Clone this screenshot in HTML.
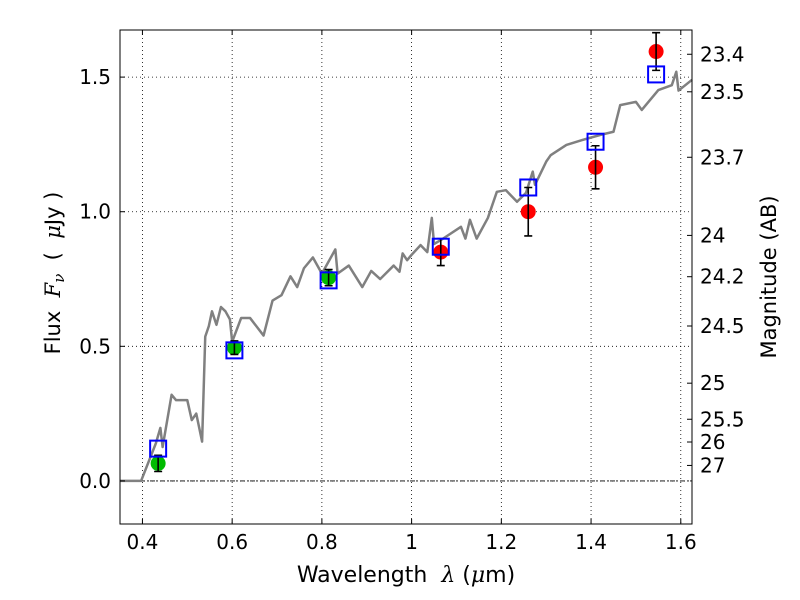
<!DOCTYPE html>
<html><head><meta charset="utf-8"><style>
body{margin:0;background:#fff;}
svg{display:block;font-family:"DejaVu Sans","Liberation Sans",sans-serif;}
</style></head><body>
<svg id="chart" width="800" height="600" viewBox="0 0 800 600" xmlns="http://www.w3.org/2000/svg"></svg>
<script>
const specX=[0.35,0.397,0.43,0.44,0.445,0.465,0.475,0.485,0.50,0.51,0.52,0.533,0.54,0.548,0.555,0.565,0.575,0.585,0.595,0.60,0.62,0.64,0.67,0.69,0.71,0.73,0.745,0.76,0.78,0.80,0.83,0.835,0.86,0.89,0.91,0.93,0.96,0.973,0.98,0.99,1.0,1.02,1.035,1.045,1.05,1.07,1.11,1.12,1.13,1.145,1.17,1.19,1.21,1.235,1.255,1.27,1.275,1.3,1.31,1.345,1.38,1.42,1.45,1.465,1.5,1.513,1.55,1.58,1.59,1.595,1.625];
const specY=[0,0,0.14,0.197,0.126,0.32,0.30,0.30,0.30,0.226,0.25,0.146,0.536,0.575,0.63,0.58,0.646,0.63,0.6,0.517,0.605,0.605,0.54,0.67,0.69,0.76,0.72,0.79,0.83,0.77,0.86,0.77,0.80,0.72,0.78,0.75,0.80,0.777,0.845,0.82,0.84,0.876,0.85,0.977,0.88,0.9,0.944,0.9,0.97,0.9,0.977,1.074,1.08,1.037,1.07,1.149,1.1,1.186,1.21,1.248,1.266,1.285,1.297,1.396,1.408,1.378,1.452,1.47,1.52,1.45,1.49];
const optX=[0.435,0.605,0.815];
const optY=[0.065,0.495,0.755];
const optErr=[0.03,0.025,0.03];
const irX=[1.065,1.26,1.41,1.545];
const irY=[0.85,1.0,1.165,1.595];
const irErr=[0.05,0.09,0.08,0.07];
const modX=[0.435,0.605,0.815,1.065,1.26,1.41,1.545];
const modY=[0.12,0.485,0.745,0.87,1.09,1.26,1.51];
const xTicks=[0.4,0.6,0.8,1.0,1.2,1.4,1.6];
const xTickLabels=["0.4","0.6","0.8","1","1.2","1.4","1.6"];
const yTicks=[0,0.5,1.0,1.5];
const yTickLabels=["0.0","0.5","1.0","1.5"];
const magTicks=[23.4,23.5,23.7,24,24.2,24.5,25,25.5,26,27];

const L=120,R=692,T=30,B=524,XMIN=0.35,XMAX=1.625,YMIN=-0.16,YMAX=1.675;
const sx=v=>L+(v-XMIN)/(XMAX-XMIN)*(R-L);
const sy=v=>B-(v-YMIN)/(YMAX-YMIN)*(B-T);
const svg=document.getElementById('chart');
const NS="http://www.w3.org/2000/svg";
function mk(tag,attrs,parent){const e=document.createElementNS(NS,tag);for(const k in attrs)e.setAttribute(k,attrs[k]);(parent||svg).appendChild(e);return e;}

mk('rect',{x:0,y:0,width:800,height:600,fill:'#fff'});
xTicks.forEach((v,i)=>{
 const g=mk('line',{x1:sx(v),x2:sx(v),y1:T,y2:B,stroke:'#000','stroke-width':0.8,'stroke-dasharray':'1,3'});
 
 
});
yTicks.forEach((v,i)=>{
 const g=mk('line',{x1:L,x2:R,y1:sy(v),y2:sy(v),stroke:'#000','stroke-width':0.8,'stroke-dasharray':'1,3'});
 
 
});
const zl=mk('line',{x1:L,x2:R,y1:sy(0),y2:sy(0),stroke:'#000','stroke-width':0.8,'stroke-dasharray':'5,2,1,2'});


const sp=mk('polyline',{points:specX.map((x,i)=>sx(x)+','+sy(specY[i])).join(' '),fill:'none',stroke:'#808080','stroke-width':2.5,'stroke-linejoin':'round'});


function pts(xs,ys,errs,color,name){
 xs.forEach((x,i)=>{
  const c=mk('circle',{cx:sx(x),cy:sy(ys[i]),r:7.5,fill:color});
  
  
  const y1=sy(ys[i]+errs[i]),y2=sy(ys[i]-errs[i]),cx=sx(x);
  const eb=mk('path',{d:`M${cx},${y1}V${y2}M${cx-4},${y1}H${cx+4}M${cx-4},${y2}H${cx+4}`,stroke:'#000','stroke-width':1.6,fill:'none'});
  
  
 });
}
pts(optX,optY,optErr,'#00bb00','optical-point');
pts(irX,irY,irErr,'#ff0000','ir-point');
modX.forEach((x,i)=>{
 const s=mk('rect',{x:sx(x)-8,y:sy(modY[i])-8,width:16,height:16,fill:'none',stroke:'#0000ff','stroke-width':2});
 
 
});
const fr=mk('rect',{x:L,y:T,width:R-L,height:B-T,fill:'none',stroke:'#000','stroke-width':1});


xTicks.forEach((v,i)=>{
 mk('line',{x1:sx(v),x2:sx(v),y1:B,y2:B-5,stroke:'#000'});
 mk('line',{x1:sx(v),x2:sx(v),y1:T,y2:T+5,stroke:'#000'});
 const t=mk('text',{x:sx(v),y:B+25,'text-anchor':'middle','font-size':20});
 t.textContent=xTickLabels[i];
 
 
});
yTicks.forEach((v,i)=>{
 mk('line',{x1:L,x2:L+5,y1:sy(v),y2:sy(v),stroke:'#000'});
 const t=mk('text',{x:L-9,y:sy(v)+7,'text-anchor':'end','font-size':20});
 t.textContent=yTickLabels[i];
 
 
});
magTicks.forEach(m=>{
 const f=Math.pow(10,(23.9-m)/2.5);
 mk('line',{x1:R,x2:R-5,y1:sy(f),y2:sy(f),stroke:'#000'});
 const t=mk('text',{x:R+8,y:sy(f)+7,'font-size':20});
 t.textContent=String(m);
 
 
});
</script>
<svg style="position:absolute;left:0;top:0" width="800" height="600" xmlns="http://www.w3.org/2000/svg" font-family="DejaVu Sans, Liberation Sans, sans-serif">
<text x="406" y="582" text-anchor="middle" font-size="22">Wavelength&#160;&#160;<tspan font-style="italic" font-family="DejaVu Serif, serif">λ</tspan> (<tspan font-style="italic" font-family="DejaVu Serif, serif">μ</tspan>m)</text>
<text transform="translate(60,273) rotate(-90)" text-anchor="middle" font-size="21">Flux&#160;&#160;<tspan font-style="italic" font-family="DejaVu Serif, serif">F</tspan><tspan font-style="italic" font-size="15" dy="4" font-family="DejaVu Serif, serif">ν</tspan><tspan dy="-4">&#160;&#160;(&#160;&#160;</tspan><tspan font-style="italic" font-family="DejaVu Serif, serif">μ</tspan>Jy&#160;)</text>
<text transform="translate(776,277) rotate(-90)" text-anchor="middle" font-size="21">Magnitude (AB)</text>
</svg>
</body></html>
